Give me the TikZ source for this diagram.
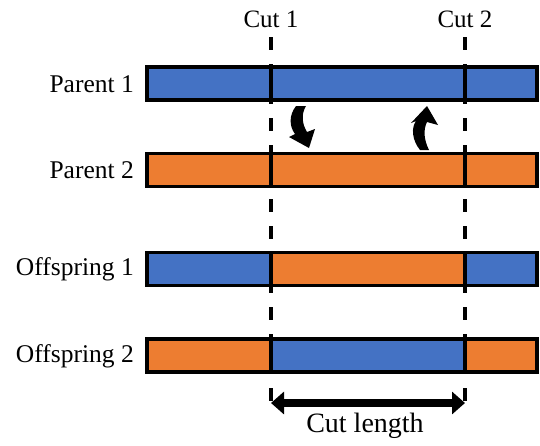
\documentclass[tikz,border=0pt]{standalone}
\usepackage{fontspec}
\setmainfont{Liberation Serif}
\usetikzlibrary{arrows.meta}
\definecolor{geneblue}{HTML}{4472C4}
\definecolor{geneorange}{HTML}{ED7D31}
% one chromosome: name, y centre, left/middle/right colours
\newcommand\chromrow[5]{%
  \node[seg, fill=#3, minimum width=124pt] (#1a) at (209,#2) {};
  \node[seg, fill=#5, minimum width=72pt]  (#1c) at (501,#2) {};
  \node[seg, fill=#4, minimum width=194pt] (#1b) at (368,#2) {};
}
\begin{document}
\begin{tikzpicture}[x=1pt,y=-1pt,
  seg/.style={draw=black, line width=3.8pt, minimum height=33pt, inner sep=0pt, outer sep=0pt},
  lbl/.style={anchor=east, font=\fontsize{25.5}{29}\selectfont, inner sep=0pt},
  cutlbl/.style={font=\fontsize{25}{29}\selectfont, inner sep=0pt},
  cutline/.style={line width=3.3pt, dash pattern=on 13pt off 14pt},
  swaparrow/.style={fill=black, draw=none}]
\useasboundingbox (0,0) rectangle (540,445);

% cut positions
\coordinate (c1top) at (271,37);
\coordinate (c1bot) at (271,403);
\coordinate (c2top) at (465,37);
\coordinate (c2bot) at (465,403);
\draw[cutline] (c1top) -- (c1bot);
\draw[cutline] (c2top) -- (c2bot);
\node[cutlbl] (cut1) at (271,19) {Cut 1};
\node[cutlbl] (cut2) at (465,19) {Cut 2};

\chromrow{pa}{83.5}{geneblue}{geneblue}{geneblue}
\chromrow{pb}{170}{geneorange}{geneorange}{geneorange}
\chromrow{oa}{269}{geneblue}{geneorange}{geneblue}
\chromrow{ob}{355.5}{geneorange}{geneblue}{geneorange}

\node[lbl] (lpa) at (134,84) {Parent 1};
\node[lbl] (lpb) at (134,170.5) {Parent 2};
\node[lbl] (loa) at (134,269.5) {Offspring 1};
\node[lbl] (lob) at (134,356) {Offspring 2};

% swap arrows between the parents
\fill[swaparrow] (296,106) .. controls (289,115) and (289,126) .. (295,134)
  -- (289,137) -- (309,148) -- (315,129) -- (307,132)
  .. controls (302,124) and (301,114) .. (306,106) -- cycle;
\fill[swaparrow] (420,150) .. controls (412,140) and (411,128) .. (416,121)
  -- (411,123) -- (427,106) -- (438,125) -- (427,122)
  .. controls (423,130) and (424,140) .. (429,150) -- cycle;

% cut length
\draw[line width=8pt, {Triangle[length=13pt,width=22pt]}-{Triangle[length=13pt,width=22pt]}] (c1bot) -- (c2bot);
\node[cutlbl, font=\fontsize{28}{32}\selectfont] (clen) at (365,426) {Cut length};
\end{tikzpicture}
\end{document}
